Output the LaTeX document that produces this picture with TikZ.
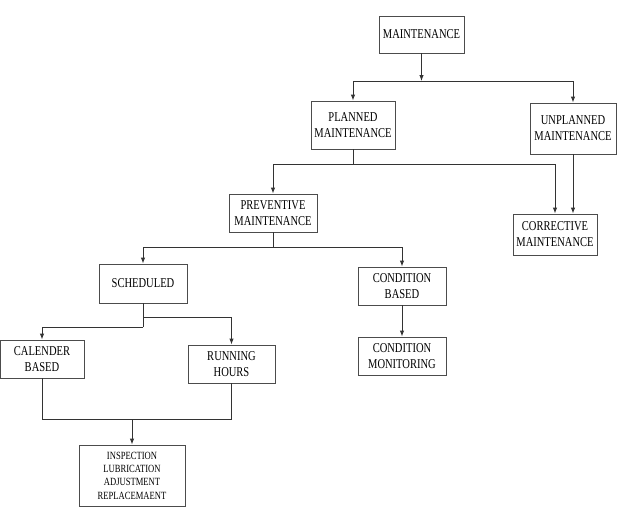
\documentclass[tikz,border=0pt]{standalone}
\usepackage{fontspec}
\setmainfont{Liberation Serif}[FakeStretch=0.78]
\usetikzlibrary{arrows.meta}
\tikzset{
	blk/.style={draw=black!70, line width=0.9pt, align=center, inner sep=0pt, font=\fontsize{13.5}{16}\selectfont},
	arr/.style={-{Latex[length=6pt,width=4.5pt]}},
	wire/.style={draw=black!80, line width=0.9pt}
}
\begin{document}
\begin{tikzpicture}[x=1pt,y=-1pt]
			\useasboundingbox (0,0) rectangle (620,517);
			% boxes
			\node[blk, minimum width=85, minimum height=37] (maint) at (421.5,34.5) {MAINTENANCE};
			\node[blk, minimum width=84, minimum height=48] (planned) at (353,125) {PLANNED\\MAINTENANCE};
			\node[blk, minimum width=86, minimum height=51] (unplanned) at (573,128.5) {UNPLANNED\\MAINTENANCE};
			\node[blk, minimum width=84, minimum height=41] (corrective) at (555,234.5) {CORRECTIVE\\MAINTENANCE};
			\node[blk, minimum width=88, minimum height=38] (preventive) at (273,213) {PREVENTIVE\\MAINTENANCE};
			\node[blk, minimum width=88, minimum height=39] (scheduled) at (143,283.5) {SCHEDULED};
			\node[blk, minimum width=88, minimum height=38] (condbased) at (402,286) {CONDITION\\BASED};
			\node[blk, minimum width=88, minimum height=38] (condmon) at (402,356) {CONDITION\\MONITORING};
			\node[blk, minimum width=84, minimum height=38] (calender) at (42,359) {CALENDER\\BASED};
			\node[blk, minimum width=87, minimum height=38] (running) at (231.5,364) {RUNNING\\HOURS};
			\node[blk, minimum width=106, minimum height=61, font=\fontsize{11}{13.3}\selectfont] (inspection) at (132,475.5) {INSPECTION\\LUBRICATION\\ADJUSTMENT\\REPLACEMAENT};
			% junctions
			\coordinate (j1) at (421.5,81);
			\coordinate (j2) at (353,164);
			\coordinate (j3) at (273,247);
			\coordinate (j4) at (143,317);
			\coordinate (j5) at (143,327);
			\coordinate (j6) at (132,419);
			% connectors
			\draw[wire, arr] (maint) -- (j1);
			\draw[wire, arr] (j1) -| (planned);
			\draw[wire, arr] (j1) -| (unplanned);
			\draw[wire] (planned) -- (j2);
			\draw[wire, arr] (j2) -| (preventive);
			\draw[wire, arr] (j2) -| (corrective);
			\draw[wire, arr] (unplanned) -- (unplanned |- corrective.north);
			\draw[wire] (preventive) -- (j3);
			\draw[wire, arr] (j3) -| (scheduled);
			\draw[wire, arr] (j3) -| (condbased);
			\draw[wire, arr] (condbased) -- (condmon);
			\draw[wire] (scheduled) -- (j5);
			\draw[wire, arr] (j4) -| (running);
			\draw[wire, arr] (j5) -| (calender);
			\draw[wire] (calender) |- (j6);
			\draw[wire] (running) |- (j6);
			\draw[wire, arr] (j6) -- (inspection);
	\end{tikzpicture}
\end{document}
